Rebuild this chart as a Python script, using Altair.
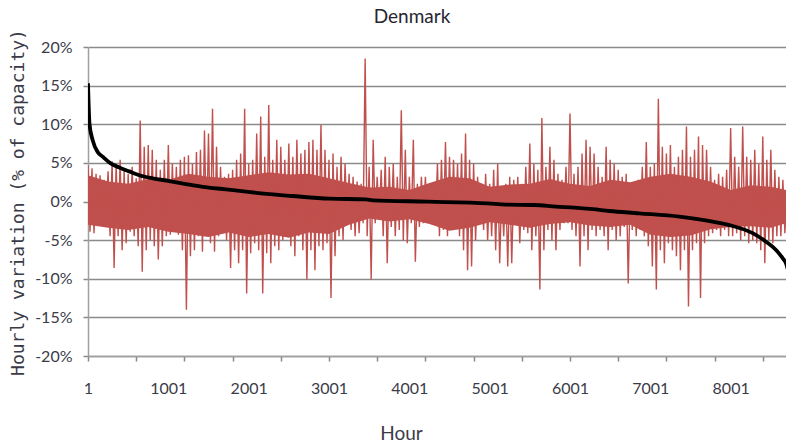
import altair as alt
import pandas as pd

# Hourly wind variation in Denmark (% of installed capacity).
# Each ~50-hour slot is drawn as its upper and lower excursion.
red_hi = [
    4.7, 4.3, 3.6, 3.4, 2.8, 3.9, 5.2, 4.9, 5.4, 4.1, 3.6, 4.5, 3.0, 10.5, 7.1, 7.3, 6.7, 5.4,
    4.1, 5.4, 7.3, 4.9, 4.5, 5.4, 5.8, 6.0, 4.9, 6.4, 6.7, 9.2, 8.8, 12.0, 7.1, 4.5, 3.2, 3.6,
    4.1, 5.4, 6.2, 12.0, 4.9, 5.4, 8.8, 11.0, 5.8, 12.5, 5.4, 8.0, 7.1, 5.4, 7.5, 5.8, 8.0,
    6.2, 6.7, 7.7, 8.0, 6.7, 9.9, 6.7, 5.4, 6.2, 4.5, 5.8, 4.9, 3.6, 3.2, 2.6, 2.3, 18.5, 4.5,
    8.0, 3.2, 4.1, 5.8, 4.5, 4.9, 3.2, 11.8, 6.7, 3.2, 8.0, 2.3, 3.2, 3.2, 1.5, 2.3, 4.9,
    5.4, 7.7, 5.8, 5.4, 4.9, 6.2, 8.8, 5.4, 4.9, 3.2, 2.3, 3.6, 2.3, 4.1, 4.9, 1.5, 2.3, 3.2,
    2.8, 3.2, 2.3, 4.5, 7.5, 4.9, 4.1, 10.8, 4.5, 7.1, 5.4, 3.6, 2.8, 4.5, 11.4, 3.6, 4.5,
    6.2, 8.0, 7.1, 6.2, 4.5, 3.2, 7.1, 5.4, 4.9, 4.1, 3.2, 3.6, 2.3, 1.9, 2.8, 4.5, 7.7, 4.5,
    4.9, 13.3, 7.1, 6.2, 7.3, 4.5, 5.8, 6.7, 9.7, 5.8, 6.7, 8.4, 7.3, 6.7, 4.5, 2.8, 3.6,
    3.2, 4.1, 9.5, 5.8, 4.5, 9.7, 5.8, 5.4, 6.7, 4.9, 8.4, 5.4, 6.7, 4.1, 3.2, 2.8, 1.5,
]
red_lo = [
    -3.9, -4.1, -2.8, -2.0, -1.5, -4.5, -8.6, -4.5, -6.3, -5.4, -3.9, -4.5, -5.8, -9.1, -6.3,
    -5.0, -5.8, -7.5, -5.8, -4.5, -4.3, -3.3, -4.3, -6.3, -14.0, -7.1, -6.3, -4.5, -6.5, -4.5,
    -5.4, -6.5, -4.5, -3.9, -5.0, -8.6,
    -6.3, -8.0, -6.3, -11.9, -6.7, -5.4, -6.3, -11.9, -6.7, -8.0, -5.8, -6.3, -5.0, -4.5, -5.8,
    -7.1, -4.5, -6.3, -10.1, -6.3, -8.9, -5.8, -6.3, -5.4, -12.5, -7.1, -4.5, -5.0, -2.8, -3.7,
    -4.5, -4.1, -2.8, -4.5, -10.1,
    -2.8, -2.4, -4.5, -8.0, -3.3, -4.5, -3.7, -5.0, -5.4, -2.8, -7.8, -3.3, -2.8, -2.0, -2.4,
    -2.8, -4.5, -3.7, -4.5, -3.7, -3.3, -4.5, -6.3, -8.9, -8.4, -5.0, -2.8, -3.7, -5.0, -4.5,
    -6.3, -8.0, -4.5, -8.4, -8.0,
    -2.8, -5.4, -3.7, -4.1, -6.3, -4.5, -11.4, -6.3, -3.7, -5.0, -6.3, -3.7, -2.8, -2.8, -3.7,
    -4.5, -8.4, -4.5, -6.3, -3.7, -4.5, -3.7, -4.5, -6.3, -3.7, -5.0, -4.5, -3.3, -10.6, -3.7,
    -4.5, -3.7, -4.5, -5.8, -8.4,
    -11.4, -6.3, -8.0, -5.4, -6.3, -7.1, -8.9, -6.3, -13.6, -6.3, -5.4, -12.5, -5.4, -4.5,
    -4.1, -3.7, -4.5, -3.7, -4.5, -4.5, -4.1, -5.0, -4.5, -5.4, -5.0, -5.4, -6.3, -8.0, -5.0,
    -5.4, -4.5, -4.5, -4.1, -4.5,
]
slot_hours = 50

# Band where the hourly trace is densest (every ~250 hours)
core_hours = [1 + 250 * k for k in range(35)] + [8690]
core_hi = [3.4, 2.6, 2.3, 2.9, 2.8, 3.6, 3.2, 3.0, 3.4, 3.8, 3.5, 3.6, 3.0, 2.4, 1.8, 1.9,
           1.5, 2.4, 3.2, 3.0, 1.9, 2.2, 2.3, 2.9, 2.3, 2.0, 2.8, 2.5, 3.2, 3.6, 3.2, 2.6,
           1.5, 2.1, 1.9, 1.5]
core_lo = [-3.0, -3.4, -3.7, -3.3, -3.9, -4.2, -4.6, -4.0, -4.6, -4.2, -4.7, -4.0, -4.2,
           -3.0, -2.2, -2.6, -2.3, -2.9, -3.8, -3.4, -2.7, -3.0, -3.4, -2.9, -2.7, -3.1,
           -3.3, -3.0, -4.3, -4.6, -4.4, -3.6, -3.3, -3.2, -3.4, -2.8]

# Duration curve: the same variations sorted from largest to smallest
curve_hours = [1, 20, 59, 121, 184, 287, 391, 515, 640, 806, 1013, 1221, 1429, 1719, 1968,
               2155, 2549, 3005, 3462, 3545, 4230, 4977, 5205, 5557, 5827, 6055, 6284, 6491,
               6864, 7362, 7777, 8026, 8275, 8441, 8566, 8649, 8690, 8740]
curve_pct = [15.3, 10.0, 7.95, 6.4, 5.8, 4.9, 4.4, 3.9, 3.4, 3.0, 2.65, 2.26, 1.9, 1.57, 1.27,
             1.06, 0.71, 0.37, 0.28, 0.15, -0.02, -0.24, -0.4, -0.45, -0.67, -0.8, -1.0, -1.23,
             -1.53, -1.96, -2.6, -3.17, -4.1, -5.2, -6.27, -7.35, -8.0, -10.0]

y_ticks = [-20, -15, -10, -5, 0, 5, 10, 15, 20]
x_tick_hours = [1 + 600 * k for k in range(15)]
x_label_hours = [1 + 1000 * k for k in range(9)]
x_axis_values = sorted(set(x_tick_hours) | set(x_label_hours))

rows = []
for i, (hi, lo) in enumerate(zip(red_hi, red_lo)):
    h = 1 + slot_hours * i
    rows.append({"hour": h, "pct": hi})
    rows.append({"hour": h + slot_hours / 2, "pct": lo})
variation = pd.DataFrame(rows)
core = pd.DataFrame({"hour": core_hours, "pct": core_hi, "pct_lo": core_lo})
duration = pd.DataFrame({"hour": curve_hours, "pct": curve_pct})

text_color = "#3b3b48"
grid_color = "#8a8a8a"
red_color = "#c0504d"

x_scale = alt.Scale(domain=[1, 8690], nice=False, zero=False)
y_scale = alt.Scale(domain=[-20, 20], nice=False)

x_axis = alt.Axis(
    values=x_axis_values,
    labelExpr="(datum.value - 1) % 1000 == 0 ? '' + datum.value : ''",
    tickOpacity={"condition": {"test": "(datum.value - 1) % 600 == 0", "value": 1}, "value": 0},
    grid=False,
    domainColor="#a0a0a0",
    domainWidth=1.5,
    tickColor=grid_color,
    tickWidth=1.5,
    tickSize=5,
    labelFont="Lato",
    labelFontSize=16,
    labelColor=text_color,
    labelPadding=19,
    labelFlush=False,
    labelOverlap=False,
    title="Hour",
    titleFont="Lato",
    titleFontSize=19,
    titleFontWeight="normal",
    titleColor=text_color,
    titleX=313,
    titleY=77,
    titleAlign="center",
    titleBaseline="middle",
)
y_axis = alt.Axis(
    values=y_ticks,
    labelExpr="datum.value + '%'",
    grid=True,
    gridColor=grid_color,
    gridWidth=1.7,
    domainColor="#a0a0a0",
    domainWidth=1.5,
    tickColor=grid_color,
    tickWidth=1.5,
    tickSize=5,
    labelFont="Lato",
    labelFontSize=16,
    labelColor=text_color,
    labelPadding=11,
    title="Hourly variation (% of capacity)",
    titleFont="DejaVu Sans Mono",
    titleFontSize=18,
    titleFontWeight="normal",
    titleColor=text_color,
    titleAngle=270,
    titleX=-70,
    titleY=155,
    titleAlign="center",
    titleBaseline="middle",
)

x_enc = alt.X("hour:Q", scale=x_scale, axis=x_axis)
y_enc = alt.Y("pct:Q", scale=y_scale, axis=y_axis)

# dense body of the hourly trace
red_core = alt.Chart(core).mark_area(
    color=red_color, fill=red_color, fillOpacity=1, orient="vertical", clip=True
).encode(
    x=alt.X("hour:Q", scale=x_scale, axis=x_axis),
    y=alt.Y("pct:Q", scale=y_scale, axis=y_axis, stack=None),
    y2=alt.Y2("pct_lo:Q"),
)
red = alt.Chart(variation).mark_line(
    color=red_color, strokeWidth=1.4, strokeJoin="bevel", clip=True
).encode(x=x_enc, y=y_enc, order="hour:Q")
black = alt.Chart(duration).mark_line(
    color="#000000", strokeWidth=3.8, interpolate="monotone", clip=True
).encode(x=x_enc, y=y_enc, order="hour:Q")

chart = (
    alt.layer(red_core, red, black)
    .properties(
        width=698,
        height=309,
        title=alt.TitleParams(
            "Denmark",
            font="Lato",
            fontSize=19,
            fontWeight="normal",
            color="#262630",
            anchor="middle",
            frame="group",
            dx=-25,
            offset=2,
        ),
        autosize=alt.AutoSizeParams(type="none"),
        padding={"left": 88, "top": 47, "right": 0, "bottom": 87},
        background="white",
    )
    .configure_view(stroke=None)
)

chart.save("out.html", embed_options={"renderer": "svg", "actions": False})
